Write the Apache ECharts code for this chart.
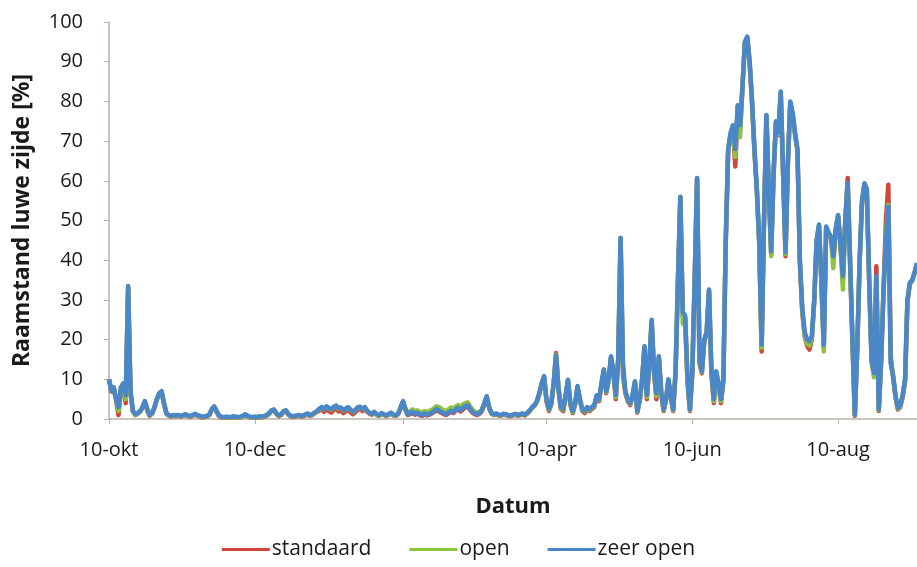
<!DOCTYPE html>
<html>
<head>
<meta charset="utf-8">
<script src="https://cdn.jsdelivr.net/npm/echarts@6/dist/echarts.min.js"></script>
<style>
    html, body {margin: 0; padding: 0; background: #fff;}
    #raamstand {width: 917px; height: 567px;}
</style>
</head>
<body>
<div id="raamstand"></div>
<script>
// dagwaarden raamstand luwe zijde, vanaf 10-okt
var startDate = [2011, 9, 10];
var dayCount = 339;
var monthNames = ['jan', 'feb', 'mrt', 'apr', 'mei', 'jun', 'jul', 'aug', 'sep', 'okt', 'nov', 'dec'];
var tickLabels = ['10-okt', '10-dec', '10-feb', '10-apr', '10-jun', '10-aug'];
var yTicks = [0, 100, 10];

var standaard = [
    10, 7, 7.5, 4.5, 1, 7.5, 8.5, 4, 33, 6.5,
    2, 1, 1.3, 1.8, 2.8, 4.3, 2.2, 0.8, 1.3, 2.8,
    4.8, 6.3, 6.8, 3.8, 1.3, 0.8, 0.6, 0.8, 0.7, 0.8,
    0.6, 0.8, 1, 0.7, 0.5, 0.8, 1.1, 0.8, 0.6, 0.4,
    0.5, 0.6, 1, 2.3, 3, 1.8, 0.7, 0.4, 0.3, 0.4,
    0.3, 0.3, 0.5, 0.4, 0.3, 0.4, 0.6, 1, 0.6, 0.4,
    0.3, 0.4, 0.3, 0.5, 0.4, 0.6, 0.8, 1.3, 2, 2.2,
    1.3, 0.7, 1, 1.8, 2, 1.1, 0.6, 0.5, 0.6, 0.8,
    0.7, 0.6, 0.9, 1.2, 0.8, 1, 1.4, 1.8, 2.2, 2.4,
    1.8, 2.5, 2, 1.6, 2.3, 2.7, 1.9, 2.2, 1.5, 1.9,
    2.3, 1.7, 1.2, 1.7, 2.3, 2.6, 2, 2.6, 1.8, 1.3,
    1.1, 1.5, 1, 0.8, 1.3, 1, 0.7, 1.1, 1.4, 0.9,
    0.8, 1.2, 2.8, 4.3, 2.3, 1, 1.3, 1.5, 1.1, 1.4,
    1, 0.8, 1.2, 0.9, 1.1, 1.4, 1.8, 2.2, 1.9, 1.6,
    1.2, 1, 1.4, 1.8, 1.5, 2.1, 2.5, 1.9, 2.4, 2.9,
    3.2, 2.3, 1.6, 1.2, 1, 1.3, 2, 3.8, 5.5, 2.8,
    1.3, 1, 1.2, 0.9, 0.8, 1.1, 1, 0.8, 0.7, 0.9,
    1.1, 0.8, 1, 1.2, 0.9, 1.4, 2, 2.8, 3.3, 4.3,
    6.3, 8.8, 10.5, 4.5, 2, 3.6, 8.8, 16.6, 7.5, 2.6,
    2, 5.6, 9.6, 3.5, 1.5, 3.6, 8, 4.6, 2, 1.5,
    2.5, 2, 2.5, 3, 5.5, 4.5, 8.6, 12.2, 6.5, 9.6,
    15.5, 11.5, 5, 14.5, 45.6, 11, 6.5, 4.5, 3.5, 5.5,
    9.2, 1.6, 4.5, 9.6, 18, 5, 13.5, 24.6, 11.5, 5,
    15.4, 6.5, 2, 4.6, 9.6, 5.5, 2, 11.5, 34.5, 55.8,
    26, 25.5, 9.5, 2, 11.5, 34.5, 60.5, 14, 11.5, 19.5,
    21.5, 32.3, 11.5, 4, 11.5, 8.5, 4, 9.5, 44.5, 67.5,
    71.5, 73.5, 63.6, 78.5, 73, 83.5, 94.8, 96, 89.5, 79.5,
    67.5, 57.5, 44.5, 17, 49.5, 76.2, 57.5, 41.5, 61.5, 74.5,
    71.5, 82, 61.5, 41, 64.5, 79.5, 76.5, 71.5, 67.5, 39.5,
    27, 21, 18.5, 17.5, 20, 29.5, 44.5, 48.5, 34.5, 18,
    48, 46.5, 45.5, 40.5, 47.5, 51, 43.5, 35.5, 50, 60.7,
    39.5, 19.5, 0.8, 17.5, 39.5, 54.5, 59, 57.5, 34.5, 14.5,
    11, 38.5, 2, 14.5, 33, 50, 59, 15.8, 10.5, 5.5,
    2.4, 3, 5.5, 9.5, 29.5, 34, 34.8, 36.8, 39
];

var open = [
    10, 7, 7.8, 4.8, 2, 7.8, 8.8, 5, 33.3, 6.8,
    2, 1.1, 1.4, 1.9, 2.9, 4.4, 2.4, 0.9, 1.4, 2.9,
    4.9, 6.4, 6.9, 3.9, 1.4, 0.9, 0.7, 0.9, 0.8, 0.9,
    0.7, 0.9, 1.1, 0.8, 0.6, 0.9, 1.2, 0.9, 0.7, 0.5,
    0.6, 0.7, 1.1, 2.4, 3.1, 1.9, 0.8, 0.5, 0.4, 0.5,
    0.4, 0.4, 0.6, 0.5, 0.4, 0.5, 0.7, 1.1, 0.7, 0.5,
    0.4, 0.5, 0.4, 0.6, 0.5, 0.7, 0.9, 1.4, 2.1, 2.3,
    1.4, 0.8, 1.1, 1.9, 2.1, 1.2, 0.7, 0.6, 0.7, 0.9,
    0.8, 0.7, 1, 1.3, 0.9, 1.1, 1.5, 1.9, 2.5, 2.9,
    2.4, 3.1, 2.7, 2.3, 3, 3.3, 2.6, 2.8, 2.1, 2.5,
    2.9, 2.3, 1.7, 2.2, 2.8, 3, 2.4, 2.9, 2, 1.5,
    1.2, 1.7, 1.1, 0.9, 1.4, 1.1, 0.8, 1.2, 1.5, 1,
    0.9, 1.3, 2.9, 4.4, 2.6, 1.5, 2, 2.4, 2, 2.2,
    1.8, 1.6, 2, 1.8, 2, 2.3, 2.7, 3.2, 3, 2.6,
    2.2, 2, 2.4, 2.9, 2.6, 3.1, 3.5, 3, 3.6, 4,
    4.2, 3.3, 2.4, 1.9, 1.6, 1.8, 2.4, 4.1, 5.7, 3,
    1.4, 1.1, 1.3, 1, 0.9, 1.2, 1.1, 0.9, 0.8, 1,
    1.2, 0.9, 1.1, 1.3, 1, 1.5, 2.1, 2.9, 3.4, 4.4,
    6.4, 8.9, 10.7, 4.8, 2.3, 3.8, 8.9, 16.2, 7.8, 2.8,
    2.3, 5.8, 9.8, 3.8, 1.8, 3.8, 8.2, 4.8, 2.3, 1.8,
    2.8, 2.3, 2.8, 3.3, 5.8, 4.8, 8.8, 12.4, 6.8, 9.8,
    15.6, 11.8, 5.5, 14.8, 45.6, 12.5, 6.8, 4.8, 3.8, 5.8,
    9.4, 1.8, 4.8, 9.8, 18.2, 5.5, 13.8, 24.8, 11.8, 5.8,
    15.6, 6.8, 2.2, 4.8, 9.8, 5.8, 2.2, 11.8, 34.8, 55.9,
    24, 25.8, 9.8, 2.2, 11.8, 34.8, 60.6, 14.8, 11.8, 19.8,
    21.8, 32.5, 11.8, 4.5, 11.8, 8.8, 4.5, 9.8, 44.8, 67.8,
    71.8, 73.8, 66, 78.8, 71, 83.8, 95, 96.2, 89.8, 79.8,
    67.8, 57.8, 44, 18, 49.8, 76.4, 57.8, 41, 61.8, 74.8,
    71.8, 82.2, 61.8, 41.5, 64.8, 79.8, 76.8, 71.8, 67.8, 39.8,
    27.5, 21, 19, 18.5, 20.5, 29.8, 44.8, 48.8, 34.8, 17,
    48.2, 46.8, 45.8, 38, 47.8, 51.2, 43.8, 32.6, 49.8, 59.2,
    39.8, 19.8, 1, 17.8, 39.8, 54.8, 59.2, 57.8, 34.8, 14.8,
    10.5, 35.5, 2.2, 14.8, 32, 46, 54, 14.5, 10.8, 5.8,
    2.6, 3.3, 5.8, 9.8, 29.8, 34.2, 34.9, 36.9, 39.2
];

var zeerOpen = [
    10, 7, 8, 5, 3, 8, 9, 6, 33.5, 7,
    2, 1.2, 1.5, 2, 3, 4.5, 2.5, 1, 1.5, 3,
    5, 6.5, 7, 4, 1.5, 1, 0.8, 1, 0.9, 1,
    0.8, 1, 1.2, 0.9, 0.7, 1, 1.3, 1, 0.8, 0.6,
    0.7, 0.8, 1.2, 2.5, 3.2, 2, 0.9, 0.6, 0.5, 0.6,
    0.5, 0.5, 0.7, 0.6, 0.5, 0.6, 0.8, 1.2, 0.8, 0.6,
    0.5, 0.6, 0.5, 0.7, 0.6, 0.8, 1, 1.5, 2.2, 2.4,
    1.5, 0.9, 1.2, 2, 2.2, 1.3, 0.8, 0.7, 0.8, 1,
    0.9, 0.8, 1.1, 1.4, 1, 1.2, 1.6, 2, 2.6, 3,
    2.5, 3.2, 2.8, 2.4, 3.1, 3.4, 2.7, 2.9, 2.2, 2.6,
    3, 2.4, 1.8, 2.3, 2.9, 3.1, 2.5, 3, 2.1, 1.6,
    1.3, 1.8, 1.2, 1, 1.5, 1.2, 0.9, 1.3, 1.6, 1.1,
    1, 1.4, 3, 4.5, 2.5, 1.2, 1.5, 1.8, 1.3, 1.6,
    1.2, 1, 1.4, 1.1, 1.3, 1.6, 2, 2.5, 2.2, 1.8,
    1.4, 1.2, 1.6, 2.1, 1.8, 2.4, 2.8, 2.2, 2.7, 3.2,
    3.5, 2.6, 1.8, 1.4, 1.2, 1.5, 2.2, 4, 5.7, 3,
    1.5, 1.2, 1.4, 1.1, 1, 1.3, 1.2, 1, 0.9, 1.1,
    1.3, 1, 1.2, 1.4, 1.1, 1.6, 2.2, 3, 3.5, 4.5,
    6.5, 9, 10.8, 5, 2.5, 4, 9, 16, 8, 3,
    2.5, 6, 9.9, 4, 2, 4, 8.3, 5, 2.5, 2,
    3, 2.5, 3, 3.5, 6, 5, 9, 12.5, 7, 10,
    15.8, 12, 6, 15, 45.6, 14, 7, 5, 4, 6,
    9.5, 2, 5, 10, 18.3, 6, 14, 25, 12, 6.5,
    15.8, 7, 2.4, 5, 10, 6, 2.4, 12, 35, 56,
    27, 26, 10, 2.4, 12, 35, 60.7, 15.5, 12, 20,
    22, 32.6, 12, 5, 12, 9, 5, 10, 45, 68,
    72, 74, 68, 79, 74, 84, 95, 96.3, 90, 80,
    68, 58, 45, 18.7, 50, 76.6, 58, 42.2, 62, 75,
    72, 82.5, 62, 42, 65, 80, 77, 72, 68, 40,
    28, 22, 20, 19.6, 21, 30, 45, 49, 35, 18.7,
    48.5, 47, 46, 41, 48, 51.4, 44, 36, 50, 59.4,
    40, 20, 1.1, 18, 40, 55, 59.4, 58, 35, 15,
    11.6, 36, 2.4, 15, 32, 45, 53.5, 14, 11, 6,
    2.8, 3.5, 6, 10, 30, 34.3, 35, 37, 39.3
];

// datumlabels per dag, notatie 10-okt
function buildDays() {
    var days = [];
    for (var i = 0; i < dayCount; i++) {
        var d = new Date(startDate[0], startDate[1], startDate[2] + i);
        days.push(d.getDate() + '-' + monthNames[d.getMonth()]);
    }
    return days;
}

function showRaamstand() {
    var chart = echarts.init(document.getElementById('raamstand'));
    var fontName = 'Open Sans';
    var axisColor = '#bbb1ab';
    var isTick = function (index, value) {
        return tickLabels.indexOf(value) >= 0;
    };
    var lineSeries = function (name, data, color) {
        return {
            name: name,
            type: 'line',
            data: data,
            symbol: 'none',
            animation: false,
            lineStyle: {
                color: color,
                width: 4.5,
                join: 'round'
            },
            itemStyle: {
                color: color
            }
        };
    };
    var option = {
        animation: false,
        textStyle: {
            fontFamily: fontName
        },
        grid: {
            left: 109,
            right: 0,
            top: 22,
            bottom: 148
        },
        legend: {
            bottom: 2,
            left: 'center',
            icon: 'rect',
            itemWidth: 48,
            itemHeight: 3,
            itemGap: 38,
            textStyle: {
                fontFamily: fontName,
                fontSize: 21,
                color: '#1a1a1a',
                padding: [0, 0, 0, -3]
            },
            data: ['standaard', 'open', 'zeer open']
        },
        xAxis: {
            type: 'category',
            boundaryGap: false,
            data: buildDays(),
            name: 'Datum',
            nameLocation: 'middle',
            nameGap: 77,
            nameTextStyle: {
                fontFamily: fontName,
                fontSize: 22,
                fontWeight: 'bold',
                color: '#1a1a1a'
            },
            axisLine: {
                lineStyle: {color: axisColor, width: 1.5}
            },
            axisTick: {
                show: true,
                interval: isTick,
                length: 5,
                lineStyle: {color: axisColor}
            },
            axisLabel: {
                interval: isTick,
                margin: 21,
                fontSize: 20,
                color: '#1a1a1a',
                fontFamily: fontName
            },
            splitLine: {show: false}
        },
        yAxis: {
            type: 'value',
            min: yTicks[0],
            max: yTicks[1],
            interval: yTicks[2],
            name: 'Raamstand luwe zijde [%]',
            nameLocation: 'middle',
            nameRotate: 90,
            nameGap: 75,
            nameTextStyle: {
                fontFamily: fontName,
                fontSize: 23,
                fontWeight: 'bold',
                color: '#1a1a1a'
            },
            axisLine: {
                show: true,
                lineStyle: {color: axisColor, width: 1.5}
            },
            axisTick: {
                show: true,
                length: 5,
                lineStyle: {color: axisColor}
            },
            axisLabel: {
                margin: 26,
                fontSize: 20,
                color: '#1a1a1a',
                fontFamily: fontName
            },
            splitLine: {show: false}
        },
        series: [
            lineSeries('standaard', standaard, '#d2453a'),
            lineSeries('open', open, '#8cc43f'),
            lineSeries('zeer open', zeerOpen, '#4a87c9')
        ]
    };
    chart.setOption(option);
}

showRaamstand();
</script>
</body>
</html>
